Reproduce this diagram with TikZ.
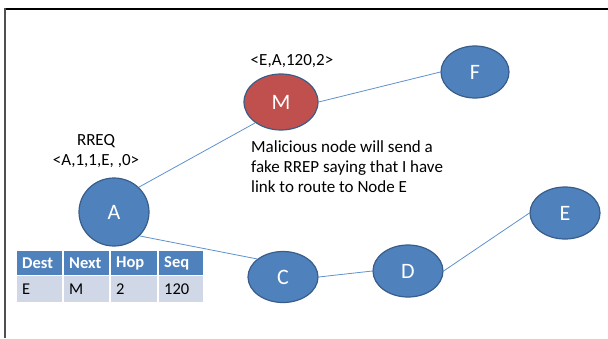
\documentclass[tikz,border=0pt]{standalone}
\usepackage{fontspec}
\setmainfont{Carlito}
\usetikzlibrary{shapes.geometric}
\definecolor{nodeblue}{RGB}{79,129,189}
\definecolor{nodeedge}{RGB}{56,93,138}
\definecolor{nodered}{RGB}{192,80,77}
\definecolor{linkblue}{RGB}{95,145,205}
\definecolor{rowfill}{RGB}{208,216,232}
\definecolor{framegray}{RGB}{80,80,80}
\tikzset{
  netnode/.style={ellipse, fill=nodeblue, draw=nodeedge, line width=1.2pt, inner sep=0pt,
    text=white, font=\fontsize{22}{24}\selectfont},
  malnode/.style={netnode, fill=nodered},
  link/.style={draw=linkblue, line width=0.8pt},
  lbl/.style={font=\fontsize{17}{20}\selectfont, text=black, inner sep=0pt},
  hcell/.style={fill=nodeblue, draw=white, line width=1.2pt},
  dcell/.style={fill=rowfill, draw=white, line width=1.2pt},
  htext/.style={anchor=west, text=white, font=\fontsize{16.5}{18}\selectfont\bfseries, inner sep=0pt},
  dtext/.style={anchor=west, text=black, font=\fontsize{16.5}{18}\selectfont, inner sep=0pt}
}
\begin{document}
\begin{tikzpicture}[x=1pt, y=-1pt]
\useasboundingbox (0,0) rectangle (608,338);
% frame
\draw[black, line width=2pt] (5,9) -- (608,9);
\draw[framegray, line width=2pt] (5,8) -- (5,338);
% table
\foreach \x/\w [count=\i] in {16/47,63/47,110/48,158/46}{
  \path[hcell] (\x,250) rectangle ++(\w,25.5);
  \path[dcell] (\x,275.5) rectangle ++(\w,27.5);
}
\node[htext] (h1) at (22,263) {Dest};
\node[htext] (h2) at (69,263) {Next};
\node[htext] (h3) at (116,263) {Hop};
\node[htext] (h4) at (164,263) {Seq};
\node[dtext] (d1) at (22,289.5) {E};
\node[dtext] (d2) at (69,289.5) {M};
\node[dtext] (d3) at (116,289.5) {2};
\node[dtext] (d4) at (164,289.5) {120};
% nodes
\node[netnode, minimum width=70pt, minimum height=68pt] (A) at (114,212) {A};
\node[malnode, minimum width=74pt, minimum height=56pt] (M) at (281,102) {M};
\node[netnode, minimum width=68pt, minimum height=52pt] (F) at (475,72) {F};
\node[netnode, minimum width=70pt, minimum height=51pt] (C) at (283,277) {C};
\node[netnode, minimum width=70pt, minimum height=52pt] (D) at (408,271) {D};
\node[netnode, minimum width=70pt, minimum height=52pt] (E) at (565,213) {E};
% links
\draw[link] (A.45) -- (M.219);
\draw[link] (A.-43) -- (C.145);
\draw[link] (M.east) -- (F.west);
\draw[link] (C.east) -- (D.west);
\draw[link] (D.east) -- (E.west);
% labels
\node[lbl] (lm) at (292,61) {<E,A,120,2>};
\node[lbl, align=center] (la) at (96,151.5) {RREQ\\<A,1,1,E, ,0>};
\node[lbl, align=left, anchor=north west] (lt) at (251,140) {Malicious node will send a\\fake RREP saying that I have\\link to route to Node E};
\end{tikzpicture}
\end{document}
